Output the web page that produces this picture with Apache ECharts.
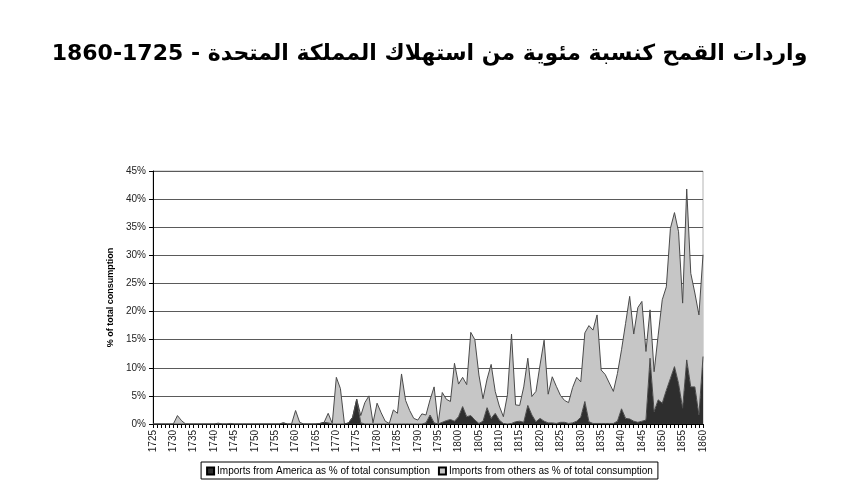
<!DOCTYPE html>
<html>
<head lang="ar">
    <meta charset="UTF-8">
    <title>واردات القمح</title>
    <style>
        html, body { margin: 0; padding: 0; background: #fff; }
        #main { width: 859px; height: 493px; }
    </style>
</head>
<body>
<div id="main"></div>
<script src="https://cdn.jsdelivr.net/npm/echarts@6/dist/echarts.min.js"></script>
<script>
    // السنوات 1725 - 1860
    var years = [];
    for (var y = 1725; y <= 1860; y++) {
        years.push(String(y));
    }

    // نسبة الواردات من أمريكا (%)
    var america = [
        0, 0, 0, 0, 0, 0, 0, 0, 0, 0,              // 1725-1734
        0, 0, 0, 0, 0, 0, 0, 0, 0, 0,              // 1735-1744
        0, 0, 0, 0, 0, 0, 0, 0, 0, 0,              // 1745-1754
        0, 0, 0.2, 0, 0, 0, 0, 0, 0, 0,            // 1755-1764
        0, 0.1, 0.3, 0.2, 0, 0, 0, 0, 0.2, 1.2,    // 1765-1774
        4.4, 0.2, 0, 0, 0, 0, 0, 0, 0, 0,          // 1775-1784
        0, 0, 0, 0, 0, 0, 0, 0.2, 1.6, 0.2,        // 1785-1794
        0, 0.3, 0.6, 0.8, 0.5, 1.3, 3.1, 1.3, 1.5, 0.7,   // 1795-1804
        0.1, 0.5, 2.9, 1.0, 1.9, 0.7, 0.1, 0, 0.1, 0.4,   // 1805-1814
        0.5, 0.3, 3.3, 1.6, 0.4, 1.0, 0.5, 0.2, 0.2, 0.1, // 1815-1824
        0.3, 0.3, 0.1, 0.2, 0.5, 1.2, 4.0, 0.4, 0.1, 0.1, // 1825-1834
        0.1, 0.1, 0.1, 0.1, 0.5, 2.7, 1.0, 0.9, 0.5, 0.3, // 1835-1844
        0.5, 0.7, 11.7, 2.2, 4.3, 3.7, 6.0, 8.1, 10.2, 7.2, // 1845-1854
        2.8, 11.4, 6.6, 6.6, 1.6, 12.0             // 1855-1860
    ];

    // نسبة الواردات من الدول الأخرى (%)
    var others = [
        0, 0, 0, 0, 0, 0, 1.5, 0.6, 0, 0,          // 1725-1734
        0, 0, 0, 0, 0, 0, 0.15, 0, 0, 0.1,         // 1735-1744
        0, 0, 0, 0, 0, 0, 0, 0, 0, 0,              // 1745-1754
        0, 0, 0, 0, 0, 2.4, 0.3, 0, 0, 0,          // 1755-1764
        0, 0, 0, 1.7, 0.1, 8.3, 6.3, 0, 0, 0,      // 1765-1774
        0, 1.3, 3.8, 5.0, 0.2, 3.7, 2.0, 0.5, 0.1, 2.5,   // 1775-1784
        1.9, 8.9, 4.2, 2.4, 1.0, 0.7, 1.8, 1.4, 2.7, 6.4, // 1785-1794
        0.1, 5.3, 3.8, 3.2, 10.3, 5.8, 5.2, 5.7, 14.8, 14.3, // 1795-1804
        8.6, 4.0, 5.1, 9.6, 3.9, 2.5, 1.2, 5.2, 15.9, 3.0,   // 1805-1814
        2.8, 6.3, 8.4, 3.3, 5.4, 9.5, 14.4, 5.1, 8.2, 6.6,   // 1815-1824
        4.8, 3.9, 3.7, 6.3, 7.8, 6.3, 12.2, 17.1, 16.6, 19.3, // 1825-1834
        9.5, 8.7, 7.2, 5.7, 8.5, 10.5, 16.9, 21.8, 15.5, 20.4, // 1835-1844
        21.3, 12.2, 8.6, 7.1, 11.5, 18.4, 18.4, 26.7, 27.4, 27.0, // 1845-1854
        18.7, 30.4, 20.2, 16.7, 17.8, 18.1         // 1855-1860
    ];

    var yTicks = [0, 5, 10, 15, 20, 25, 30, 35, 40, 45];

    var myChart = echarts.init(document.getElementById('main'));

    var option = {
        animation: false,
        backgroundColor: '#fff',
        title: {
            text: 'واردات القمح كنسبة مئوية من استهلاك المملكة المتحدة - 1725\u20101860',
            left: 'center',
            top: 38,
            textStyle: {
                fontFamily: 'DejaVu Sans',
                fontWeight: 'bold',
                fontSize: 22,
                color: '#000'
            }
        },
        grid: {
            left: 153,
            right: 156,
            top: 171,
            bottom: 69,
            show: true,
            borderColor: '#b4b4b4',
            borderWidth: 1
        },
        legend: {
            left: 'center',
            top: 462,
            itemWidth: 7,
            itemHeight: 7,
            itemGap: 8,
            padding: [4, 5, 3, 5],
            borderColor: '#000',
            borderWidth: 1,
            borderRadius: 0,
            textStyle: {
                fontFamily: 'Liberation Sans',
                fontSize: 10,
                color: '#000',
                padding: [0, 0, 0, -2]
            },
            data: [
                { name: 'Imports from America as % of total consumption', icon: 'rect' },
                { name: 'Imports from others as % of total consumption', icon: 'rect' }
            ]
        },
        xAxis: {
            type: 'category',
            boundaryGap: false,
            data: years,
            axisLine: { lineStyle: { color: '#000', width: 1 } },
            axisTick: {
                show: true,
                interval: 0,
                length: 4,
                lineStyle: { color: '#000' }
            },
            axisLabel: {
                interval: 4,
                rotate: 90,
                margin: 6,
                fontFamily: 'Liberation Sans',
                fontSize: 10,
                color: '#222'
            },
            splitLine: { show: false }
        },
        yAxis: {
            type: 'value',
            min: yTicks[0],
            max: yTicks[yTicks.length - 1],
            interval: yTicks[1] - yTicks[0],
            name: '% of total consumption',
            nameLocation: 'middle',
            nameGap: 36,
            nameTextStyle: {
                fontFamily: 'Liberation Sans',
                fontWeight: 'bold',
                fontSize: 9,
                color: '#000'
            },
            axisLine: { show: true, lineStyle: { color: '#000', width: 1 } },
            axisTick: { show: true, length: 4, lineStyle: { color: '#000' } },
            axisLabel: {
                formatter: '{value}%',
                margin: 7,
                fontFamily: 'Liberation Sans',
                fontSize: 10,
                color: '#222'
            },
            splitLine: { lineStyle: { color: '#5a5a5a', width: 1 } }
        },
        series: [
            {
                name: 'Imports from America as % of total consumption',
                type: 'line',
                stack: 'total',
                data: america,
                symbol: 'none',
                lineStyle: { color: '#4a4a4a', width: 1 },
                itemStyle: { color: '#2e2e2e', borderColor: '#000', borderWidth: 1 },
                areaStyle: { color: '#2e2e2e', opacity: 1 }
            },
            {
                name: 'Imports from others as % of total consumption',
                type: 'line',
                stack: 'total',
                data: others,
                symbol: 'none',
                lineStyle: { color: '#4a4a4a', width: 1 },
                itemStyle: { color: '#c6c6c6', borderColor: '#000', borderWidth: 1 },
                areaStyle: { color: '#c6c6c6', opacity: 1 }
            }
        ]
    };

    myChart.setOption(option);
</script>
</body>
</html>
